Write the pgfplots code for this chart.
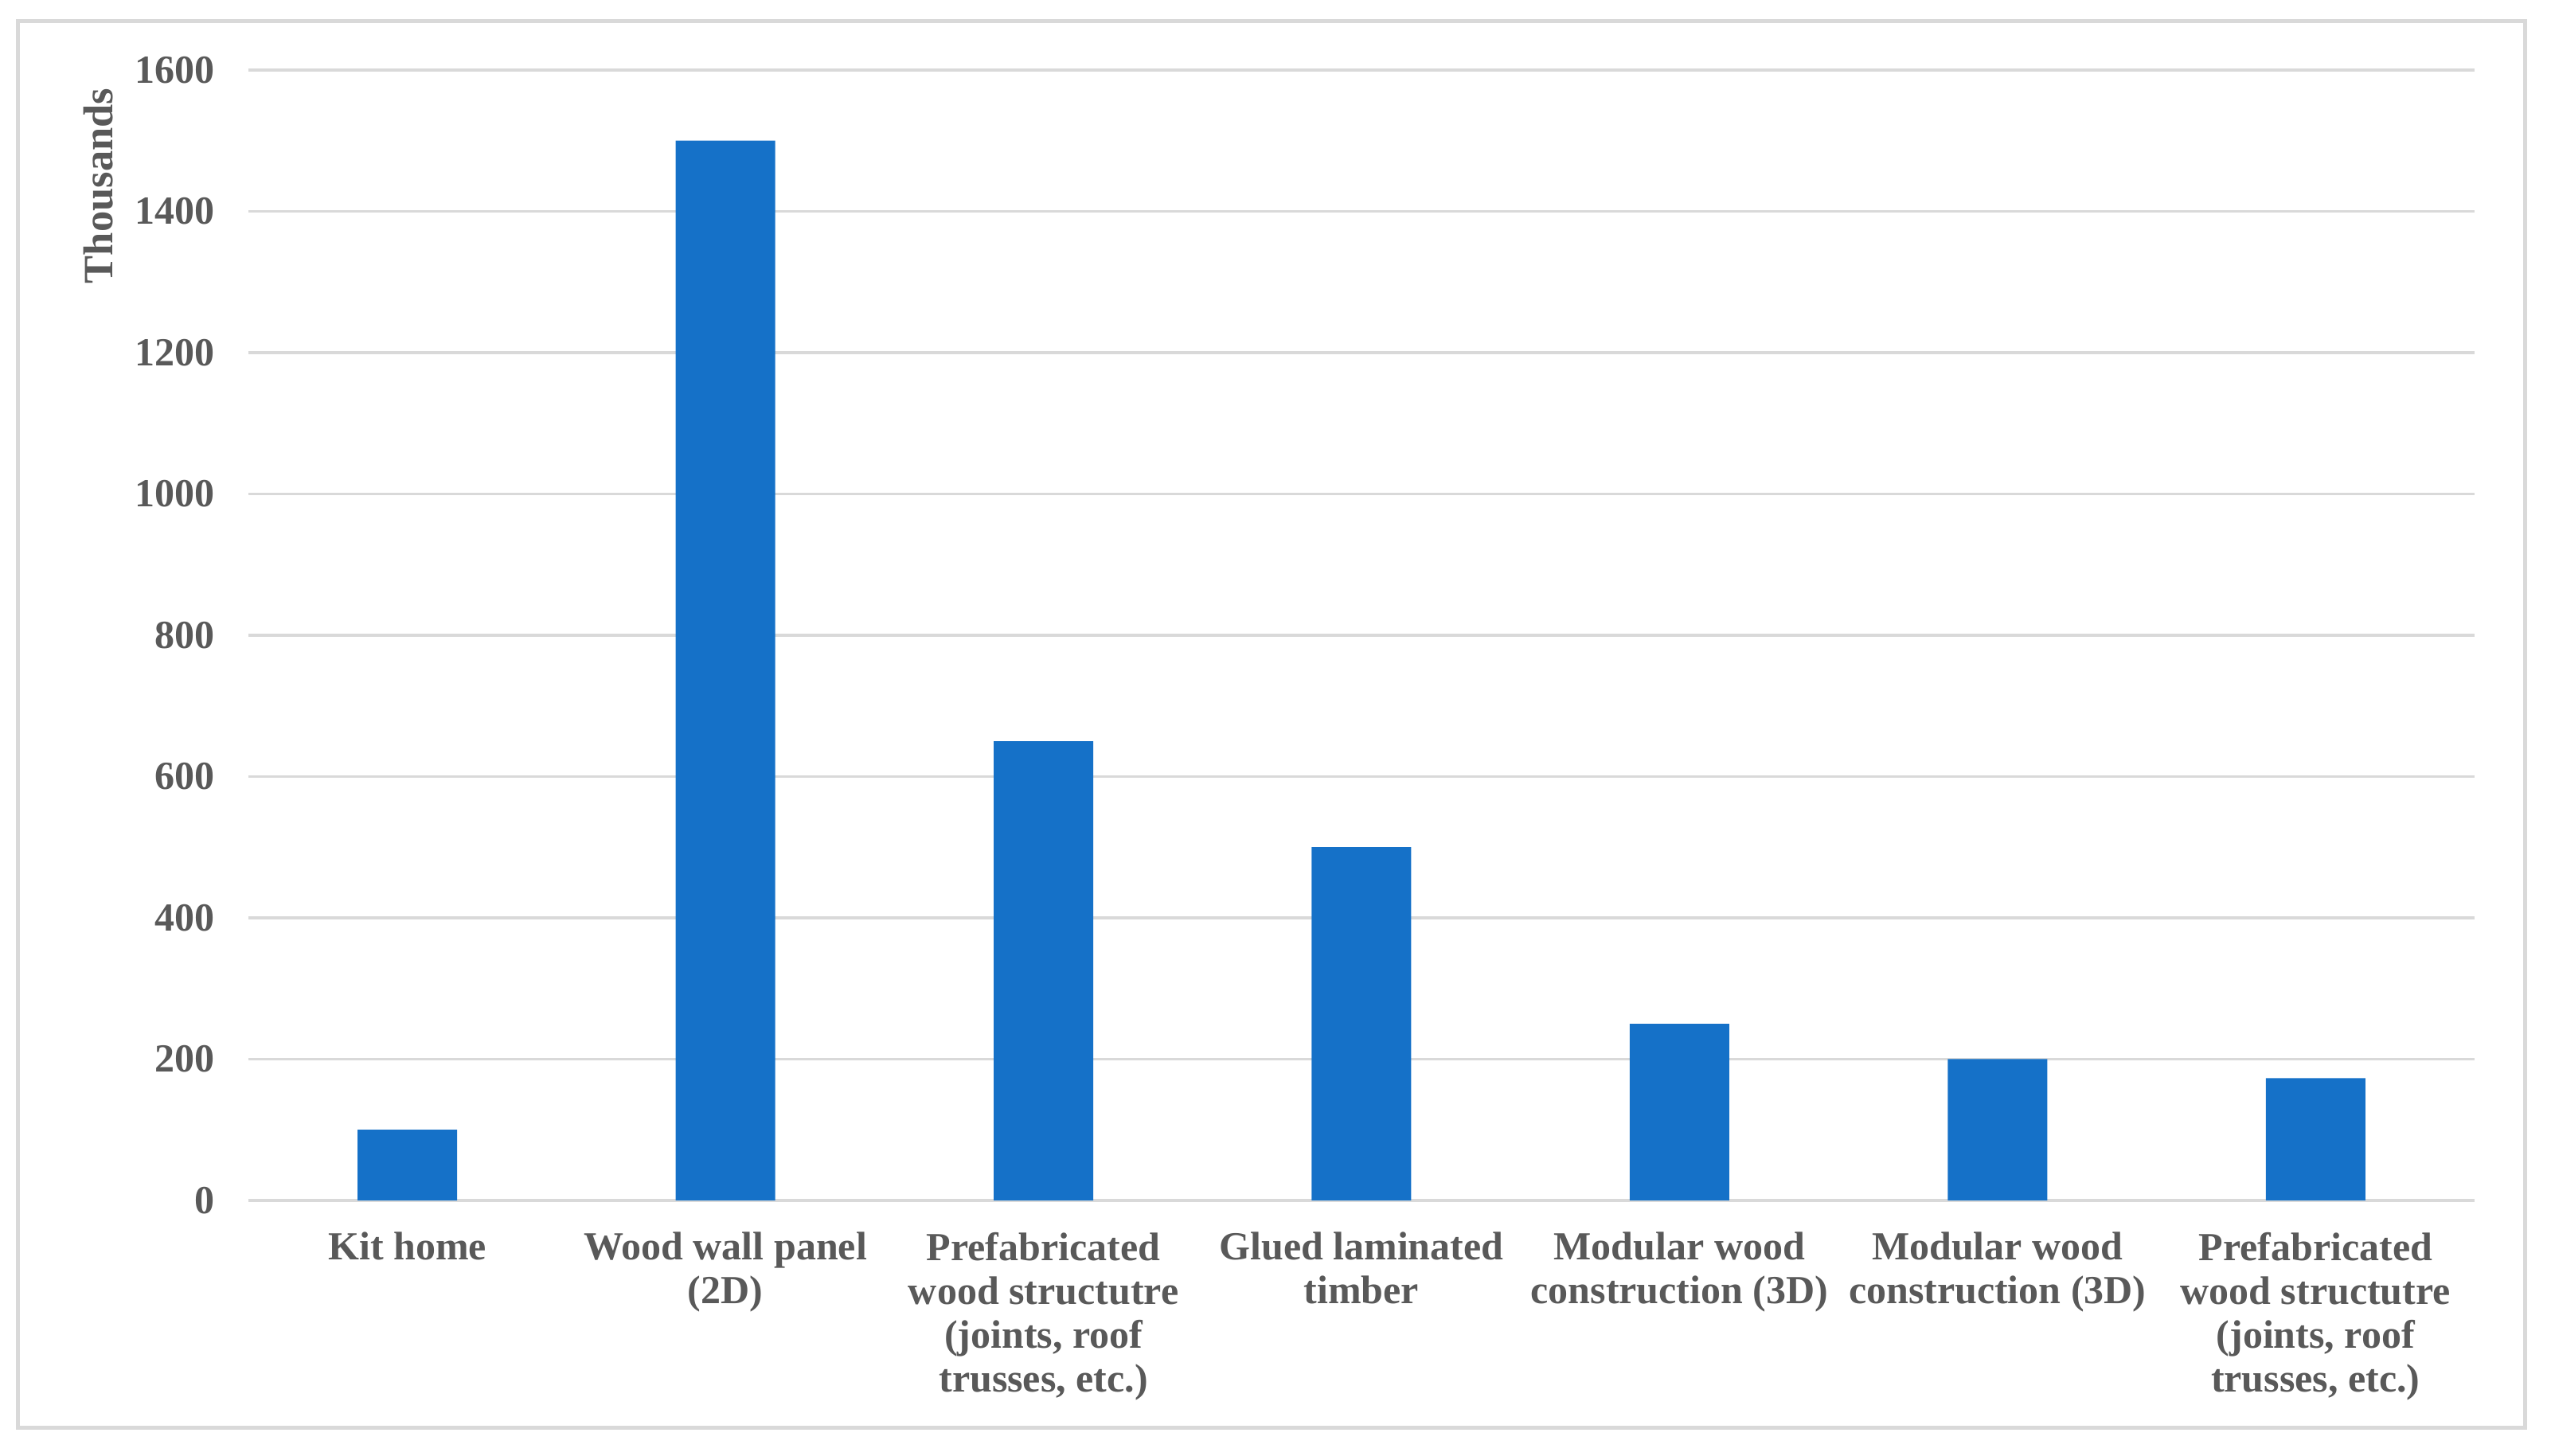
\documentclass[border=0pt]{standalone}
\usepackage{fontspec}
\setmainfont{Liberation Serif}
\usepackage{pgfplots}
\pgfplotsset{compat=1.18}
\definecolor{barblue}{RGB}{21,113,200}
\definecolor{txtgray}{RGB}{89,89,89}
\definecolor{gridgray}{RGB}{217,217,217}
\begin{document}
\begin{tikzpicture}[x=1pt,y=1pt]
\path[use as bounding box] (0,0) rectangle (640.8,365.8);
\draw[line width=1pt, gridgray] (4.4,7) rectangle (634.2,360.4);
\begin{axis}[
  at={(62.4pt,64.2pt)}, anchor=south west,
  scale only axis, width=559.2pt, height=284pt,
  xmin=-0.5, xmax=6.5, ymin=0, ymax=1600,
  ytick={0,200,...,1600},
  xtick={0,...,6},
  xticklabels={{Kit home}, {Wood wall panel\\(2D)}, {Prefabricated\\wood structutre\\(joints, roof\\trusses, etc.)}, {Glued laminated\\timber}, {Modular wood\\construction (3D)}, {Modular wood\\construction (3D)}, {Prefabricated\\wood structutre\\(joints, roof\\trusses, etc.)}},
  axis x line*=bottom, axis y line*=left,
  axis line style={draw=none},
  ymajorgrids, grid style={gridgray, line width=0.7pt},
  major tick length=0pt,
  ybar, bar width=25pt,
  tick label style={txtgray, font=\bfseries\fontsize{10}{11}\selectfont},
  yticklabel style={anchor=east, xshift=-5pt},
  xticklabel style={align=center, anchor=north, yshift=-4.5pt},
  /pgf/number format/assume math mode=true,
  /pgf/number format/1000 sep={},
]
\addplot[fill=barblue, draw=none] coordinates {(0,100) (1,1500) (2,650) (3,500) (4,250) (5,200) (6,173)};
\end{axis}
\node[rotate=90, txtgray, font=\bfseries\fontsize{10.5}{12}\selectfont] at (24.7,319.1) {Thousands};
\end{tikzpicture}
\end{document}
